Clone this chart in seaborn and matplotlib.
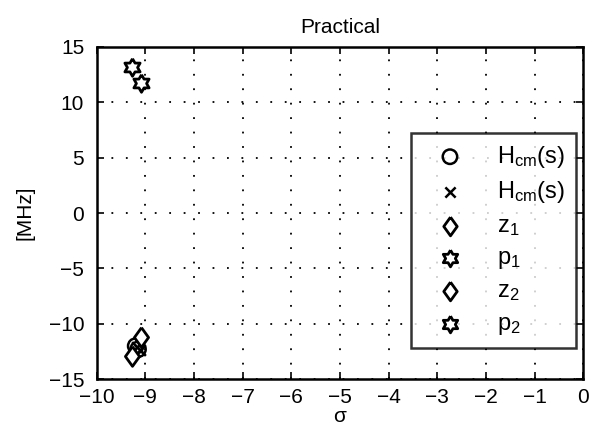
import numpy as np
import pandas as pd
import matplotlib
matplotlib.use("Agg")
import matplotlib.pyplot as plt
import seaborn as sns

# ---- data ----
hcm_zero_re = [-9.2, -9.15]
hcm_zero_im = [-12.0, -12.3]
hcm_pole_re = [-9.18, -9.12]
hcm_pole_im = [-12.1, -12.4]
z1_re = [-9.28]
z1_im = [-12.9]
p1_re = [-9.27]
p1_im = [13.2]
z2_re = [-9.1]
z2_im = [-11.2]
p2_re = [-9.1]
p2_im = [11.7]

labels = [r"H$_{\rm cm}$(s)", r"H$_{\rm cm}$(s)", r"z$_1$", r"p$_1$", r"z$_2$", r"p$_2$"]
x_ticks = list(range(-10, 1))
y_ticks = [-15, -10, -5, 0, 5, 10, 15]

# marker shapes
diamond = [(0, 1), (0.72, 0), (0, -1), (-0.72, 0), (0, 1)]
ang_out = np.deg2rad(90 + 60 * np.arange(6))
ang_in = ang_out + np.deg2rad(30)
hexagram = []
for a, b in zip(ang_out, ang_in):
    hexagram.append((np.cos(a), np.sin(a)))
    hexagram.append((0.58 * np.cos(b), 0.58 * np.sin(b)))
hexagram.append(hexagram[0])

sns.set_style("ticks")
plt.rcParams["font.family"] = ["Liberation Sans", "DejaVu Sans"]
plt.rcParams["mathtext.fontset"] = "custom"
plt.rcParams["mathtext.rm"] = "Liberation Sans"
plt.rcParams["mathtext.it"] = "Liberation Sans"
plt.rcParams["xtick.direction"] = "in"
plt.rcParams["ytick.direction"] = "in"
for key in ["text.color", "axes.labelcolor", "xtick.color", "ytick.color", "axes.edgecolor"]:
    plt.rcParams[key] = "black"

fig = plt.figure(figsize=(5.97, 4.30), dpi=100)
ax = fig.add_axes([0.162, 0.118, 0.815, 0.773])

series = [
    (hcm_zero_re, hcm_zero_im, "o", labels[0]),
    (hcm_pole_re, hcm_pole_im, "x", labels[1]),
    (z1_re, z1_im, diamond, labels[2]),
    (p1_re, p1_im, hexagram, labels[3]),
    (z2_re, z2_im, diamond, labels[4]),
    (p2_re, p2_im, hexagram, labels[5]),
]

for xs, ys, mk, lab in series:
    df = pd.DataFrame({"re": xs, "im": ys})
    if isinstance(mk, str) and mk == "x":
        sns.scatterplot(data=df, x="re", y="im", marker="x", color="black",
                        s=60, linewidth=1.8, label=lab, ax=ax)
    elif isinstance(mk, str):
        sns.scatterplot(data=df, x="re", y="im", marker=mk, facecolor="none",
                        edgecolor="black", s=120, linewidth=1.8, label=lab, ax=ax)
    elif mk is diamond:
        sns.scatterplot(data=df, x="re", y="im", marker=mk, facecolor="white",
                        edgecolor="black", s=200, linewidth=2, label=lab, ax=ax)
    else:
        sns.scatterplot(data=df, x="re", y="im", marker=mk, facecolor="white",
                        edgecolor="black", s=160, linewidth=2, label=lab, ax=ax)

ax.set_xlim(-10, 0)
ax.set_ylim(-15, 15)
ax.set_xticks(x_ticks)
ax.set_yticks(y_ticks)
ax.tick_params(labelsize=15, top=True, right=True, length=5, width=1.2, pad=6,
               colors="black")
ax.tick_params(axis="y", pad=9)
ax.grid(True, color="black", linestyle=(0, (1, 7)), linewidth=1.3)
for sp in ax.spines.values():
    sp.set_linewidth(1.8)
    sp.set_color("black")
    sp.set_visible(True)

ax.set_title("Practical", fontsize=15, pad=10, color="black")
ax.set_xlabel(r"$\sigma$", fontsize=15, labelpad=0, color="black")
ax.set_ylabel("[MHz]", fontsize=15, labelpad=10, color="black")

leg = ax.legend(loc="upper right", bbox_to_anchor=(0.985, 0.74), fontsize=17,
                frameon=True, fancybox=False, edgecolor="black",
                labelspacing=0.4, handletextpad=0.8, borderpad=0.45,
                borderaxespad=0, markerscale=0.95, handlelength=2.4)
leg.get_frame().set_linewidth(1.8)
for t in leg.get_texts():
    t.set_color("black")

fig.savefig("out.png", dpi=100)
